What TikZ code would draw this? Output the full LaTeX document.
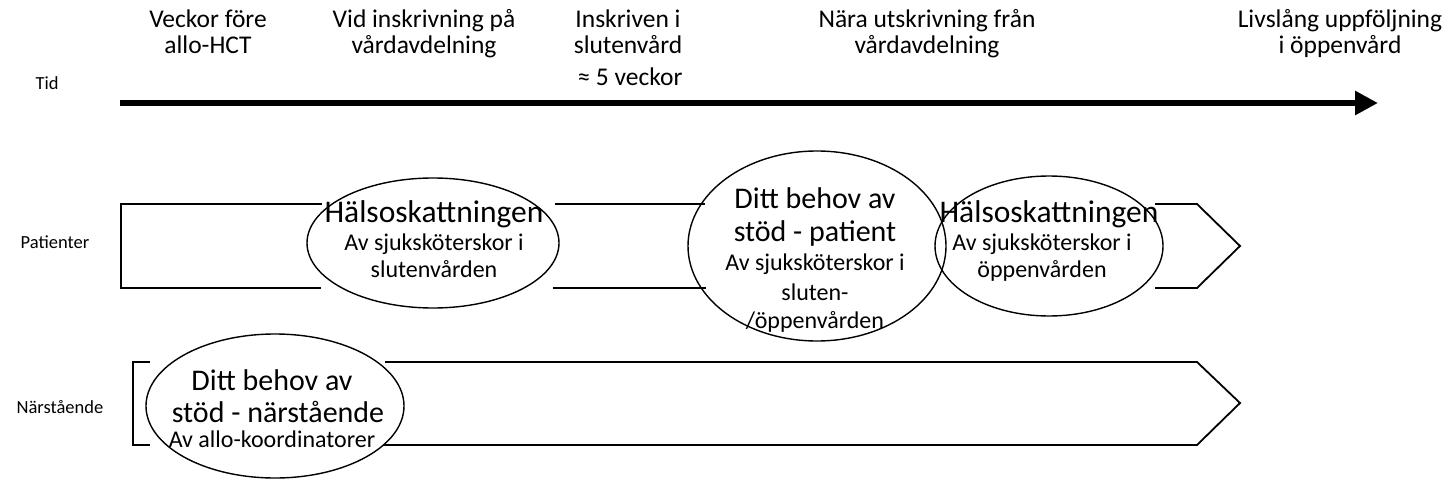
\documentclass[tikz,border=0pt]{standalone}
\usepackage{fontspec}
\setmainfont{Carlito}
\usetikzlibrary{shapes.geometric,arrows.meta}
\tikzset{
  bigA/.style={font=\fontsize{31.5}{34}\selectfont, inner sep=0pt, anchor=base},
  big/.style={font=\fontsize{30}{33}\selectfont, inner sep=0pt, anchor=base},
  small/.style={font=\fontsize{24}{27}\selectfont, inner sep=0pt, anchor=base},
  head/.style={font=\fontsize{25.5}{28}\selectfont, inner sep=0pt, anchor=base},
  lab/.style={font=\fontsize{18.5}{21}\selectfont, inner sep=0pt, anchor=base},
  oval/.style={ellipse, draw, line width=1.4pt, inner sep=0pt},
  row/.style={line width=1.8pt, line join=miter},
}
\begin{document}
\begin{tikzpicture}[x=1pt,y=-1pt]
\useasboundingbox[fill=white] (0,0) rectangle (1451,500);

% row labels
\node[lab] (ltid) at (47,90) {Tid};
\node[lab] (lpat) at (55,248) {Patienter};
\node[lab] (lnar) at (60,413) {Närstående};

% header texts
\node[head] (h1a) at (208,28) {Veckor före};
\node[head] (h1b) at (208,54) {allo-HCT};
\node[head] (h2a) at (424,28) {Vid inskrivning på};
\node[head] (h2b) at (424,54) {vårdavdelning};
\node[head] (h3a) at (628,28) {Inskriven i};
\node[head] (h3b) at (628,54) {slutenvård};
\node[head] (h3c) at (630,86) {≈ 5 veckor};
\node[head] (h4a) at (927,28) {Nära utskrivning från};
\node[head] (h4b) at (927,54) {vårdavdelning};
\node[head] (h5a) at (1340,28) {Livslång uppföljning};
\node[head] (h5b) at (1340,54) {i öppenvård};

% time arrow
\coordinate (ta) at (120,103);
\coordinate (tb) at (1378,103);
\draw[line width=6pt, -{Triangle[length=23pt,width=23pt]}] (ta) -- (tb);

% patient row
\coordinate (p1) at (322,204);
\coordinate (p2) at (121,204);
\coordinate (p3) at (121,288);
\coordinate (p4) at (321,288);
\coordinate (p5) at (555,204);
\coordinate (p6) at (705,204);
\coordinate (p7) at (553,288);
\coordinate (p8) at (706,288);
\coordinate (p9) at (1155,204);
\coordinate (p10) at (1197,204);
\coordinate (p11) at (1240,246);
\coordinate (p12) at (1197,288);
\coordinate (p13) at (1155,288);
\draw[row] (p1) -- (p2) -- (p3) -- (p4);
\draw[row] (p5) -- (p6);
\draw[row] (p7) -- (p8);
\draw[row] (p9) -- (p10) -- (p11) -- (p12) -- (p13);

% relatives row
\coordinate (n1) at (150,362);
\coordinate (n2) at (133,362);
\coordinate (n3) at (133,445);
\coordinate (n4) at (150,445);
\coordinate (n5) at (385,362);
\coordinate (n6) at (1197,362);
\coordinate (n7) at (1240,403);
\coordinate (n8) at (1197,445);
\coordinate (n9) at (383,445);
\draw[row] (n1) -- (n2) -- (n3) -- (n4);
\draw[row] (n5) -- (n6) -- (n7) -- (n8) -- (n9);

% ovals
\node[oval, minimum width=252pt, minimum height=130pt] (e1) at (433,243) {};
\node[oval, minimum width=228pt, minimum height=140pt] (e3) at (1049,246) {};
\node[oval, minimum width=258pt, minimum height=190pt] (e2) at (817,246) {};
\node[oval, minimum width=258pt, minimum height=144pt] (e4) at (275,406) {};

% oval texts
\node[bigA] (e1a) at (434,222) {Hälsoskattningen};
\node[small] (e1b) at (434,250) {Av sjuksköterskor i};
\node[small] (e1c) at (434,277) {slutenvården};

\node[big] (e2a) at (815,208) {Ditt behov av};
\node[big] (e2b) at (815,241) {stöd - patient};
\node[small] (e2c) at (815,270) {Av sjuksköterskor i};
\node[small] (e2d) at (815,300) {sluten-};
\node[small] (e2e) at (815,328) {/öppenvården};

\node[bigA] (e3a) at (1049,222) {Hälsoskattningen};
\node[small] (e3b) at (1042,250) {Av sjuksköterskor i};
\node[small] (e3c) at (1042,277) {öppenvården};

\node[big] (e4a) at (272,390) {Ditt behov av};
\node[big] (e4b) at (278,422) {stöd - närstående};
\node[small] (e4c) at (272,447) {Av allo-koordinatorer};
\end{tikzpicture}
\end{document}
